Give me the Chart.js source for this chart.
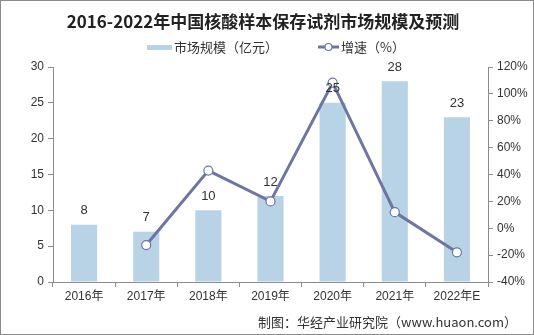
<!DOCTYPE html>
<html>
<head>
<meta charset="utf-8">
<script src="https://cdn.jsdelivr.net/npm/chart.js@4"></script>
<style>
  html, body { margin: 0; padding: 0; background: #fff; }
  #wrap { width: 534px; height: 335px; position: relative; }
</style>
</head>
<body>
<div id="wrap"><canvas id="chart" width="534" height="335"></canvas></div>
<script>
// data
const years = ['2016年', '2017年', '2018年', '2019年', '2020年', '2021年', '2022年E'];
const marketSize = [8, 7, 10, 12, 25, 28, 23];            // 亿元
const growth = [null, -12.5, 42.9, 20.0, 108.3, 12.0, -17.9]; // %

const barColor = '#b7d3e5';
const lineColor = '#6d75a0';
const axisColor = '#8c8c8c';
const textColor = '#333';
const fontFam = '"Liberation Sans", Arial, "Noto Sans CJK SC", sans-serif';

// title, legend, footer, border and bar value labels
const decor = {
  id: 'decor',
  afterDatasetsDraw(chart) {
    const ctx = chart.ctx;
    const meta = chart.getDatasetMeta(1);
    ctx.save();
    ctx.fillStyle = textColor;
    ctx.font = '13px ' + fontFam;
    ctx.textAlign = 'center';
    ctx.textBaseline = 'middle';
    meta.data.forEach((bar, i) => {
      ctx.fillText(String(marketSize[i]), bar.x, bar.y - 14);
    });
    ctx.restore();
  },
  afterDraw(chart) {
    const ctx = chart.ctx;
    ctx.save();
    // title
    ctx.fillStyle = '#222';
    ctx.font = 'bold 17px "Noto Sans CJK SC", sans-serif';
    ctx.textAlign = 'center';
    ctx.textBaseline = 'middle';
    ctx.fillText('2016-2022年中国核酸样本保存试剂市场规模及预测', 263, 22);

    // legend
    ctx.font = '13px "Noto Sans CJK SC", sans-serif';
    ctx.textAlign = 'left';
    ctx.fillStyle = barColor;
    ctx.fillRect(147, 45, 25, 5);
    ctx.fillStyle = textColor;
    ctx.fillText('市场规模（亿元）', 174, 47);

    ctx.strokeStyle = lineColor;
    ctx.lineWidth = 3;
    ctx.beginPath();
    ctx.moveTo(318, 47);
    ctx.lineTo(339, 47);
    ctx.stroke();
    ctx.fillStyle = '#fff';
    ctx.lineWidth = 1.2;
    ctx.beginPath();
    ctx.arc(328.5, 47, 3.5, 0, Math.PI * 2);
    ctx.fill();
    ctx.stroke();
    ctx.fillStyle = textColor;
    ctx.fillText('增速（%）', 341, 47);

    // footer
    ctx.textAlign = 'right';
    ctx.font = '13px "Noto Sans CJK SC", sans-serif';
    ctx.fillText('制图：华经产业研究院（www.huaon.com）', 517, 322);

    // outer border
    ctx.strokeStyle = '#8a8a8a';
    ctx.lineWidth = 1;
    ctx.strokeRect(0.5, 0.5, 533, 334);
    ctx.restore();
  }
};

const ctx = document.getElementById('chart').getContext('2d');
new Chart(ctx, {
  type: 'bar',
  data: {
    labels: years,
    datasets: [
      {
        type: 'line',
        label: '增速（%）',
        data: growth,
        yAxisID: 'yRate',
        borderColor: lineColor,
        borderWidth: 3,
        pointRadius: 4.5,
        pointBorderWidth: 1.2,
        pointBackgroundColor: '#fff',
        pointBorderColor: lineColor,
        tension: 0,
        order: 0
      },
      {
        label: '市场规模（亿元）',
        data: marketSize,
        yAxisID: 'ySize',
        backgroundColor: barColor,
        categoryPercentage: 1,
        barPercentage: 0.42,
        order: 1
      }
    ]
  },
  options: {
    responsive: false,
    animation: false,
    layout: { padding: { top: 67, bottom: 33, left: 0, right: 0 } },
    plugins: {
      legend: { display: false },
      tooltip: { enabled: false }
    },
    scales: {
      x: {
        grid: { display: true, drawOnChartArea: false, color: axisColor, tickLength: 5 },
        border: { color: axisColor },
        ticks: { color: textColor, font: { family: fontFam, size: 12 }, padding: 2 },
        afterFit(s) { s.height = 20; }
      },
      ySize: {
        position: 'left',
        min: 0, max: 30,
        ticks: { stepSize: 5, color: textColor, font: { family: fontFam, size: 12 }, padding: 4 },
        grid: { display: true, drawOnChartArea: false, color: axisColor, tickLength: 5 },
        border: { color: axisColor },
        afterFit(s) { s.width = 53; }
      },
      yRate: {
        position: 'right',
        min: -40, max: 120,
        ticks: { stepSize: 20, color: textColor, font: { family: fontFam, size: 12 }, padding: 4,
                 callback: v => v + '%' },
        grid: { display: true, drawOnChartArea: false, color: axisColor, tickLength: 5 },
        border: { color: axisColor },
        afterFit(s) { s.width = 46; }
      }
    }
  },
  plugins: [decor]
});
</script>
</body>
</html>
